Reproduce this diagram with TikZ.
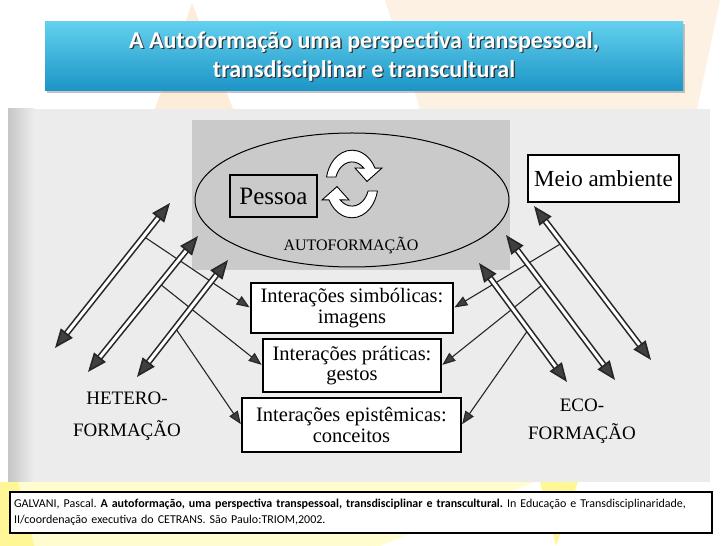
\documentclass[tikz,border=0pt]{standalone}
\usepackage{fontspec}
\setmainfont{Liberation Serif}
\newfontfamily\calib{Carlito}
\usetikzlibrary{arrows.meta,calc,shapes.geometric,shadows}
\definecolor{peach}{RGB}{253,236,218}
\definecolor{paleyel}{RGB}{255,252,208}
\definecolor{brightyel}{RGB}{255,247,150}
\definecolor{bartop}{RGB}{98,208,238}
\definecolor{barbot}{RGB}{28,148,198}
\definecolor{scangray}{RGB}{236,236,236}
\definecolor{dotgray}{RGB}{202,202,202}
\tikzstyle{box} = [draw=black, line width=1.2pt, fill=white, inner sep=0pt, align=center, font=\fontsize{20.5}{20.5}\selectfont]
\tikzstyle{dbl} = [<->, >={Triangle[length=19pt,width=15pt,fill=black!75]}, draw=black!85, line width=1.6pt, double=white, double distance=3pt]
\tikzstyle{sgl} = [->, >={Triangle[length=13pt,width=10pt,fill=black!75]}, draw=black!85, line width=1.1pt, shorten >=1pt]
\tikzstyle{formlabel} = [align=center, font=\fontsize{19}{32}\selectfont]
\tikzstyle{cyc} = [draw=black, line width=0.9pt, fill=white]
\tikzstyle{titletxt} = [align=center, font=\calib\bfseries\fontsize{24}{29}\selectfont]

\begin{document}
\begin{tikzpicture}[x=1pt,y=1pt]
\useasboundingbox (0,0) rectangle (728,546);
\fill[white] (0,0) rectangle (728,546);
% slide template
\fill[peach] (192,543) -- (233,437) -- (155,437) -- cycle;
\fill[peach!75!white] (385,546) -- (720,546) -- (697,437) -- (420,437) -- cycle;
\fill[paleyel] (0,64) -- (534,64) -- (380,0) -- (0,0) -- cycle;
\fill[brightyel] (540,64) -- (578,64) -- (556,0) -- cycle;
\fill[brightyel] (0,64) -- (18,64) -- (34,0) -- (0,0) -- cycle;
% scanned figure
\fill[scangray] (8,64) rectangle (710,437);
\shade[left color=gray!45, right color=scangray] (8,64) rectangle (34,437);
\fill[dotgray] (192,276) rectangle (510,426);
\node[ellipse, draw=black, line width=1pt, minimum width=314, minimum height=134] (autof) at (352,346) {};
\node[box, fill=dotgray, minimum width=87, minimum height=42, font=\fontsize{25}{25}\selectfont] (pessoa) at (273.5,350) {Pessoa};
\foreach \rot in {0,180}{
\begin{scope}[shift={(352,362)}, rotate=\rot, yscale=1.3]
\draw[cyc] (168:26) arc[start angle=168, end angle=28, radius=26] -- (30,12.3) -- (15,2) -- (3,12.3) -- (46:17) arc[start angle=46, end angle=161.5, radius=17] -- cycle;
\end{scope}
}
\node (auto) at (351,300) {\fontsize{16}{16}\selectfont AUTOFORMAÇÃO};
\node[box, minimum width=151, minimum height=47, font=\fontsize{23}{23}\selectfont] (meio) at (603.5,367.5) {Meio ambiente};
\node[box, minimum width=202, minimum height=50] (box1) at (352,238) {Interações simbólicas:\\imagens};
\node[box, minimum width=178, minimum height=53] (box2) at (352,180.5) {Interações práticas:\\gestos};
\node[box, minimum width=219, minimum height=54] (box3) at (351.5,121) {Interações epistêmicas:\\conceitos};
\node[formlabel] (hetero) at (127,130) {HETERO-\\FORMAÇÃO};
\node[formlabel, font=\fontsize{19}{28}\selectfont] (eco) at (582,125) {ECO-\\FORMAÇÃO};

\coordinate (het1-a) at (55,198); \coordinate (het1-b) at (170,343);
\coordinate (het2-a) at (88,174); \coordinate (het2-b) at (198,310);
\coordinate (het3-a) at (137,169); \coordinate (het3-b) at (228,286);
\coordinate (eco1-a) at (534,340); \coordinate (eco1-b) at (651,186);
\coordinate (eco2-a) at (506,311); \coordinate (eco2-b) at (615,166);
\coordinate (eco3-a) at (479,283); \coordinate (eco3-b) at (567,164);
\foreach \i/\p/\b in {1/0.77/box1, 2/0.65/box2, 3/0.42/box3}
  \draw[sgl] ($(het\i-a)!\p!(het\i-b)$) -- (\b.west);
\foreach \i/\p/\b in {1/0.24/box1, 2/0.34/box2, 3/0.56/box3}
  \draw[sgl] ($(eco\i-a)!\p!(eco\i-b)$) -- (\b.east);
\foreach \i in {1,2,3}{
  \draw[dbl] (het\i-a) -- (het\i-b);
  \draw[dbl] (eco\i-a) -- (eco\i-b);
}

% title bar
\shade[top color=bartop, bottom color=barbot, drop shadow={shadow xshift=1.5pt, shadow yshift=-2pt, opacity=0.45}] (45,455) rectangle (683,524);
\node[titletxt, text=black!80] (titleshade) at (365.3,488.3) {A Autoformação uma perspectiva transpessoal,\\transdisciplinar e transcultural};
\node[titletxt, text=white] (title) at (364,489.5) {A Autoformação uma perspectiva transpessoal,\\transdisciplinar e transcultural};

% reference
\node[draw=black, line width=1.6pt, fill=white, text width=694pt, inner sep=4pt, minimum height=41pt, align=left, font=\calib\frenchspacing\fontsize{12}{16}\selectfont] (ref) at (361,33.5) {GALVANI, Pascal. \textbf{A autoformação, uma perspectiva transpessoal, transdisciplinar e transcultural.} In Educação e Transdisciplinaridade,\\II/coordenação executiva do CETRANS. São Paulo:TRIOM,2002.};
\end{tikzpicture}
\end{document}
